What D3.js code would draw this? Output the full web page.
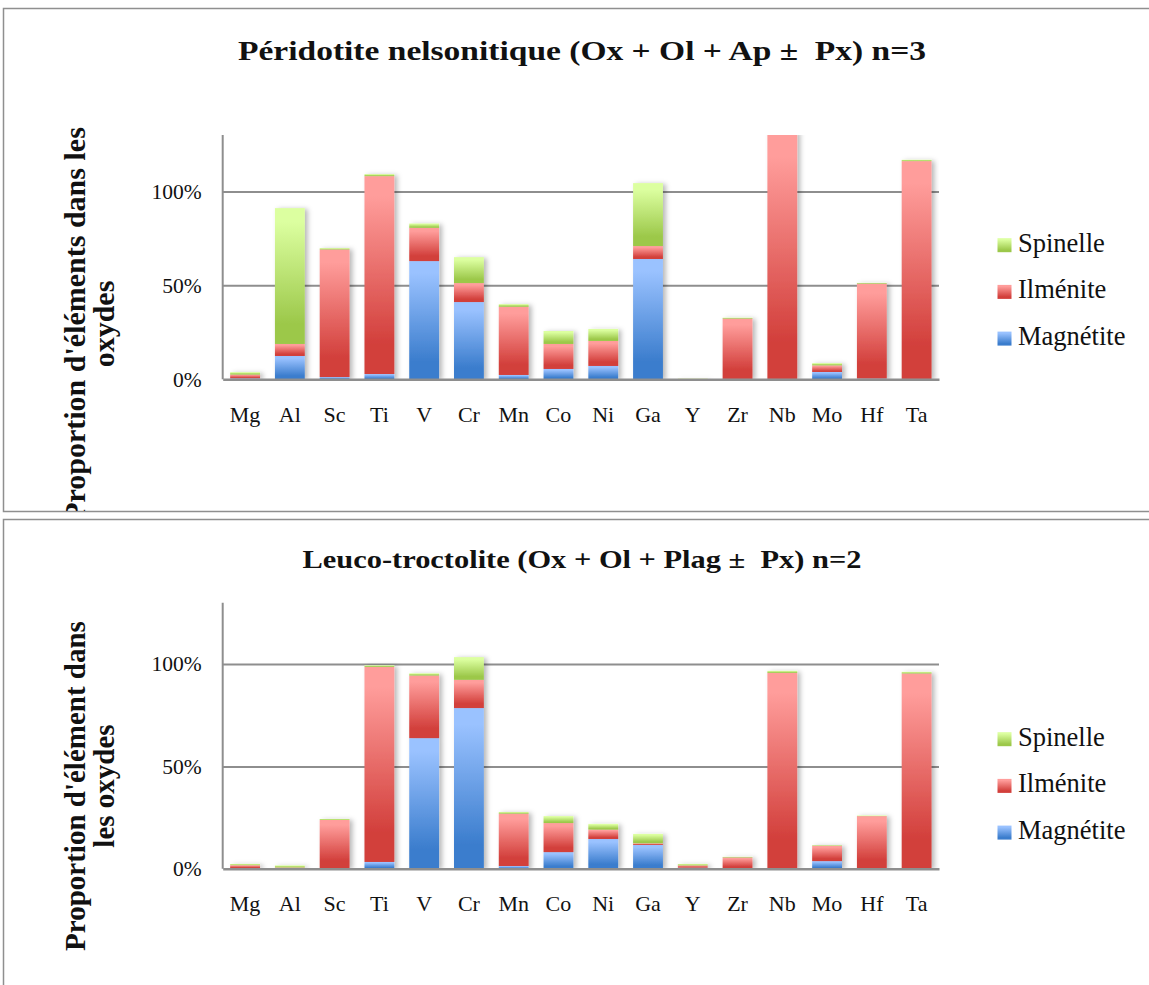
<!DOCTYPE html>
<html lang="fr">
<head>
    <meta charset="UTF-8">
    <title>Proportion d'éléments dans les oxydes</title>
    <script src="https://d3js.org/d3.v7.min.js"></script>
    <style>
        body { margin: 0; background: #fff; }
        text { font-family: "Liberation Serif", "DejaVu Serif", serif; fill: #111; }
    </style>
</head>
<body>
<div id="chart"></div>
<script>
    // Elements on the x axis
    const elements = ["Mg", "Al", "Sc", "Ti", "V", "Cr", "Mn", "Co", "Ni", "Ga", "Y", "Zr", "Nb", "Mo", "Hf", "Ta"];
    const seriesNames = ["Magnétite", "Ilménite", "Spinelle"];
    const yTickValues = [0, 50, 100];
    const yMax = 130;

    // Péridotite nelsonitique (%)
    const peridotiteMagnetite = [0.5, 12.4, 1.2, 2.8, 62.9, 41.1, 2.3, 5.5, 7.1, 64.0, 0.1, 0.2, 0.2, 3.9, 0.4, 0.2];
    const peridotiteIlmenite  = [2.0, 6.4, 67.9, 105.3, 17.7, 10.1, 36.3, 13.3, 13.3, 6.9, 0.1, 32.1, 131.5, 3.5, 50.5, 115.9];
    const peridotiteSpinelle  = [1.3, 72.3, 0.7, 1.1, 2.3, 13.8, 1.4, 6.9, 6.4, 33.5, 0.2, 0.5, 0.3, 1.2, 0.4, 0.7];

    // Leuco-troctolite (%)
    const troctoliteMagnetite = [0.3, 0.3, 0.3, 3.3, 63.8, 78.5, 1.3, 8.1, 14.5, 11.6, 0.5, 0.1, 0.1, 3.7, 0.3, 0.1];
    const troctoliteIlmenite  = [1.4, 0.3, 23.5, 95.3, 30.6, 13.8, 25.6, 14.2, 4.6, 0.8, 1.1, 5.4, 95.6, 7.5, 25.4, 95.3];
    const troctoliteSpinelle  = [0.6, 1.0, 0.5, 0.8, 1.1, 11.1, 0.8, 3.4, 2.8, 4.6, 0.7, 0.3, 1.0, 0.3, 0.3, 0.8];

    const W = 1149, H = 985;
    const plotLeft = 222.7, plotRight = 939;

    // light top -> dark bottom, like the Excel gradient fill
    const gradColors = {
        "Magnétite": ["#9ac2ff", "#3b7dcd"],
        "Ilménite":  ["#ff9d9b", "#d23f3b"],
        "Spinelle":  ["#dcffa0", "#9cc84a"]
    };

    const svg = d3.select("#chart").append("svg")
        .attr("width", W)
        .attr("height", H);

    const defs = svg.append("defs");
    seriesNames.forEach((s, i) => {
        const g = defs.append("linearGradient")
            .attr("id", "grad" + i)
            .attr("x1", 0).attr("y1", 0).attr("x2", 0).attr("y2", 1);
        g.append("stop").attr("offset", "0").attr("stop-color", gradColors[s][0]);
        g.append("stop").attr("offset", "0.1").attr("stop-color", gradColors[s][0]);
        g.append("stop").attr("offset", "0.85").attr("stop-color", gradColors[s][1]);
        g.append("stop").attr("offset", "1").attr("stop-color", gradColors[s][1]);
    });
    const shadow = defs.append("filter").attr("id", "shadow")
        .attr("x", "-20%").attr("y", "-5%").attr("width", "150%").attr("height", "115%");
    shadow.append("feDropShadow")
        .attr("dx", 3).attr("dy", 1).attr("stdDeviation", 2.5)
        .attr("flood-color", "#000").attr("flood-opacity", 0.28);

    function drawPanel(p) {
        const clipId = "panel" + p.id;
        defs.append("clipPath").attr("id", clipId)
            .append("rect").attr("x", 3).attr("y", p.boxTop).attr("width", W).attr("height", p.boxHeight);
        defs.append("clipPath").attr("id", "plot" + p.id)
            .append("rect").attr("x", plotLeft).attr("y", p.plotTop)
            .attr("width", plotRight - plotLeft).attr("height", p.plotBottom - p.plotTop);

        // frame
        svg.append("rect")
            .attr("x", 3.5).attr("y", p.boxTop + 0.5)
            .attr("width", W + 10).attr("height", p.boxHeight)
            .attr("fill", "none").attr("stroke", "#8f8f8f").attr("stroke-width", 1.5);

        const g = svg.append("g").attr("clip-path", `url(#${clipId})`);

        const x = d3.scaleBand()
            .domain(elements)
            .range([plotLeft, plotRight])
            .paddingInner(1 / 3)
            .paddingOuter(1 / 6);

        const y = d3.scaleLinear()
            .domain([0, yMax])
            .range([p.plotBottom, p.plotTop]);

        // gridlines
        g.append("g")
            .attr("transform", `translate(${plotLeft},0)`)
            .call(d3.axisLeft(y).tickValues(yTickValues.filter(v => v > 0)).tickSize(-(plotRight - plotLeft)).tickFormat(""))
            .call(a => a.select(".domain").remove())
            .call(a => a.selectAll("line").attr("stroke", "#8e8e8e").attr("stroke-width", 2));

        // stacked bars
        const rows = elements.map((e, i) => ({
            element: e,
            "Magnétite": p.magnetite[i],
            "Ilménite": p.ilmenite[i],
            "Spinelle": p.spinelle[i]
        }));
        const stacked = d3.stack().keys(seriesNames)(rows);

        const bars = g.append("g")
            .attr("clip-path", `url(#plot${p.id})`)
            .append("g")
            .attr("filter", "url(#shadow)");
        bars.selectAll("g")
            .data(stacked)
            .join("g")
            .attr("fill", (d, i) => `url(#grad${i})`)
            .selectAll("rect")
            .data(d => d)
            .join("rect")
            .attr("x", d => x(d.data.element))
            .attr("width", x.bandwidth())
            .attr("y", d => y(d[1]))
            .attr("height", d => Math.max(0, y(d[0]) - y(d[1])));

        // y axis
        g.append("g")
            .attr("transform", `translate(${plotLeft},0)`)
            .call(d3.axisLeft(y).tickValues(yTickValues).tickSize(0).tickPadding(21).tickFormat(d => d + "%"))
            .call(a => a.select(".domain").remove())
            .call(a => a.selectAll("text").attr("font-size", 21.5).attr("font-family", null).attr("fill", "#111"));
        g.append("line")
            .attr("x1", plotLeft).attr("x2", plotLeft)
            .attr("y1", p.plotTop).attr("y2", p.plotBottom)
            .attr("stroke", "#8e8e8e").attr("stroke-width", 2);

        // x axis
        g.append("g")
            .attr("transform", `translate(0,${p.plotBottom})`)
            .call(d3.axisBottom(x).tickSize(0))
            .call(a => a.select(".domain").attr("stroke", "#8e8e8e").attr("stroke-width", 2.5))
            .call(a => a.selectAll("text")
                .attr("font-size", 22).attr("font-family", null).attr("fill", "#111")
                .attr("dy", null).attr("y", p.xLabelOffset));

        // title
        g.append("text")
            .attr("x", 582).attr("y", p.titleY)
            .attr("text-anchor", "middle")
            .attr("font-weight", "bold")
            .attr("font-size", p.titleSize)
            .attr("textLength", p.titleWidth)
            .attr("lengthAdjust", "spacingAndGlyphs")
            .style("white-space", "pre")
            .text(p.title);

        // y axis title (two lines, rotated)
        const yt = g.append("g")
            .attr("transform", `translate(85,${p.yTitleCenter}) rotate(-90)`);
        p.yTitle.forEach((line, i) => {
            yt.append("text")
                .attr("x", 0).attr("y", i * 29)
                .attr("text-anchor", "middle")
                .attr("font-weight", "bold")
                .attr("font-size", p.yTitleSize)
                .text(line);
        });

        // legend
        const legend = g.append("g");
        seriesNames.slice().reverse().forEach((s, i) => {
            const by = p.legendY + i * 46.7;
            legend.append("rect")
                .attr("x", 997.5).attr("y", by - 13.5)
                .attr("width", 14).attr("height", 14)
                .attr("fill", `url(#grad${seriesNames.indexOf(s)})`);
            legend.append("text")
                .attr("x", 1018).attr("y", by)
                .style("font-family", "'Liberation Serif', serif")
                .attr("font-size", 26.5)
                .text(s);
        });
    }

    drawPanel({
        id: 1,
        boxTop: 8, boxHeight: 503,
        plotTop: 135, plotBottom: 379.3,
        title: "Péridotite nelsonitique (Ox + Ol + Ap ±  Px) n=3",
        titleY: 60, titleSize: 28, titleWidth: 688,
        yTitle: ["Proportion d'éléments dans les", "oxydes"],
        yTitleCenter: 324, yTitleSize: 30,
        xLabelOffset: 43,
        legendY: 251.7,
        magnetite: peridotiteMagnetite, ilmenite: peridotiteIlmenite, spinelle: peridotiteSpinelle
    });

    drawPanel({
        id: 2,
        boxTop: 519, boxHeight: 500,
        plotTop: 602.7, plotBottom: 868.7,
        title: "Leuco-troctolite (Ox + Ol + Plag ±  Px) n=2",
        titleY: 568, titleSize: 25, titleWidth: 559,
        yTitle: ["Proportion d'élément dans", "les oxydes"],
        yTitleCenter: 786, yTitleSize: 29,
        xLabelOffset: 42,
        legendY: 745.7,
        magnetite: troctoliteMagnetite, ilmenite: troctoliteIlmenite, spinelle: troctoliteSpinelle
    });
</script>
</body>
</html>
